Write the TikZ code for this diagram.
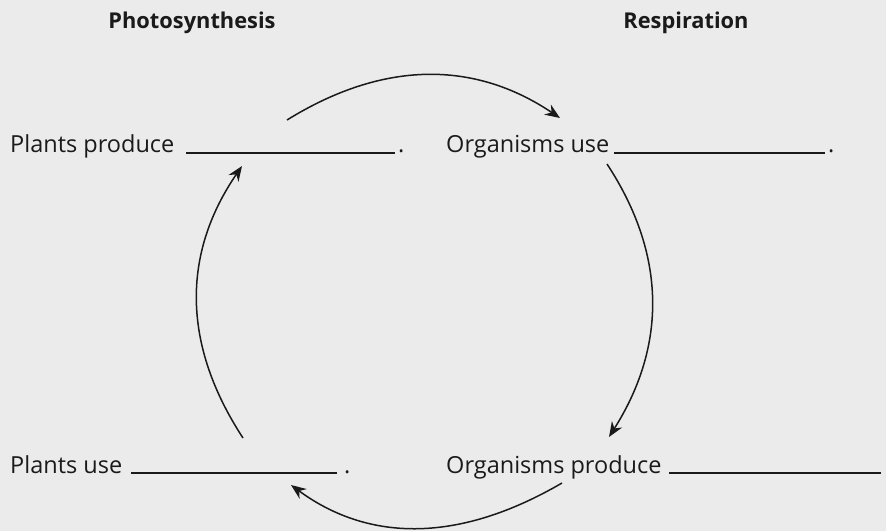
\documentclass[tikz,border=0pt]{standalone}
\usepackage{fontspec}
\setmainfont{Open Sans}
\usetikzlibrary{arrows.meta}
\definecolor{paper}{HTML}{EBEBEB}
\definecolor{ink}{HTML}{1A1A1A}
\tikzset{
  lbl/.style={anchor=base west, inner sep=0pt, font=\fontsize{23.5}{28}\selectfont, text=ink},
  head/.style={anchor=base, inner sep=0pt, font=\bfseries\fontsize{21.8}{26}\selectfont, text=ink},
  blank/.style={draw=ink, line width=1.4pt},
  cyc/.style={draw=ink, line width=1.5pt, -{Stealth[length=15pt,width=12pt]}}
}
\begin{document}
\begin{tikzpicture}[x=1pt,y=-1pt]
\fill[paper] (0,0) rectangle (886,531);
\useasboundingbox (0,0) rectangle (886,531);
% headings
\node[head] (ph) at (192,28) {Photosynthesis};
\node[head] (re) at (686,28) {Respiration};
% labels
\node[lbl] (pp) at (10,152) {Plants produce};
\node[lbl] (ou) at (446,152) {Organisms use};
\node[lbl] (pu) at (10,473) {Plants use};
\node[lbl] (op) at (446,473) {Organisms produce};
% blanks
\draw[blank] (186,153) -- (395,153);
\node[lbl] (d1) at (398,152) {.};
\draw[blank] (614,153) -- (825,153);
\node[lbl] (d2) at (828,152) {.};
\draw[blank] (131,473) -- (337,473);
\node[lbl] (d3) at (344,473) {.};
\draw[blank] (669,473) -- (881,473);
% arc end coordinates
\coordinate (t1) at (287,120);
\coordinate (t2) at (560,118);
\coordinate (r1) at (607,164);
\coordinate (r2) at (609,437);
\coordinate (b1) at (562,483);
\coordinate (b2) at (291,485);
\coordinate (l1) at (243,438);
\coordinate (l2) at (242,166);
% cycle arrows
\draw[cyc] (t1) .. controls (382.7,60.7) and (473.7,60) .. (t2);
\draw[cyc] (r1) .. controls (666.3,254.3) and (667,345.3) .. (r2);
\draw[cyc] (b1) .. controls (460.3,542.3) and (370,543) .. (b2);
\draw[cyc] (l1) .. controls (182,344.7) and (181.7,254) .. (l2);
\end{tikzpicture}
\end{document}
